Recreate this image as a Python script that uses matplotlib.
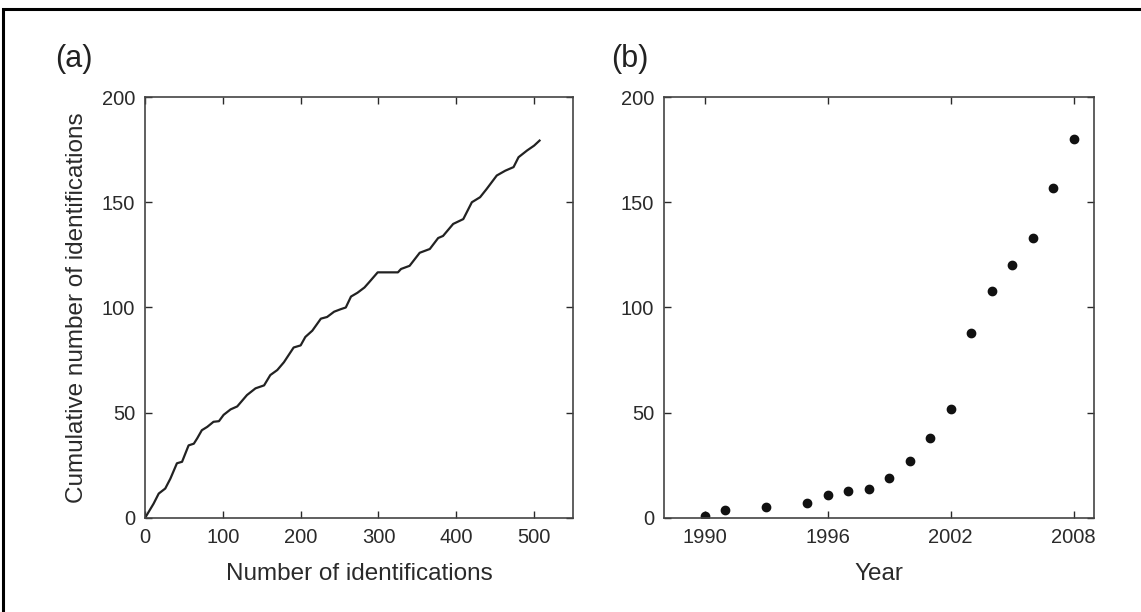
import matplotlib.pyplot as plt
from matplotlib.patches import Rectangle
from matplotlib import font_manager

# police étroite si disponible
fams = [f.name for f in font_manager.fontManager.ttflist]
if 'Liberation Sans Narrow' in fams:
    plt.rcParams['font.family'] = ['Liberation Sans Narrow', 'DejaVu Sans']
else:
    plt.rcParams['font.family'] = ['Liberation Sans', 'DejaVu Sans']

# (a) courbe cumulative
n_ident = [0, 11, 17.6, 26, 32.6, 41, 47.6, 56, 62.7, 67, 73, 80, 88, 95, 101, 110,
           118.5, 131, 142, 153, 161, 170, 178.5, 191, 200, 206, 215, 226, 234, 243,
           251.5, 258, 264.7, 273, 282, 288, 299, 325, 329, 340, 353, 366, 376.7, 383,
           396, 409, 420, 430.6, 439, 452, 463, 473.6, 480, 491, 500, 507]
cum_ident = [0, 6.8, 11.6, 14, 18.7, 26, 26.7, 34.5, 35.3, 37.8, 41.7, 43.3, 45.7, 46,
             49, 51.6, 53, 58.4, 61.6, 63, 67.9, 70.3, 74, 81, 82, 86, 89, 94.7, 95.5,
             98, 99.2, 100, 105.2, 107, 109.5, 112, 116.7, 116.7, 118.3, 119.8, 126,
             127.8, 133, 134, 139.7, 142, 150, 152.4, 156.3, 162.7, 165, 166.7, 171.4,
             174.6, 176.9, 179.3]

# (b) total cumulé par année
years = [1990, 1991, 1993, 1995, 1996, 1997, 1998, 1999, 2000, 2001, 2002, 2003,
         2004, 2005, 2006, 2007, 2008]
cum_year = [1, 4, 5, 7, 11, 13, 14, 19, 27, 38, 52, 88, 108, 120, 133, 157, 180]

fig = plt.figure(figsize=(11.41, 6.12), dpi=100)

# cadre autour de la figure
fig.patches.append(Rectangle((0.003, -0.05), 1.2, 1.035, transform=fig.transFigure,
                             fill=False, edgecolor='black', linewidth=2.2))

ax1 = fig.add_axes([0.1271, 0.1536, 0.3751, 0.6879])
ax2 = fig.add_axes([0.5820, 0.1536, 0.3768, 0.6879])

ax1.plot(n_ident, cum_ident, color='#222222', linewidth=1.6)
ax1.set_xlim(0, 550)
ax1.set_ylim(0, 200)
ax1.set_xticks([0, 100, 200, 300, 400, 500])
ax1.set_yticks([0, 50, 100, 150, 200])
ax1.set_xlabel('Number of identifications', fontsize=17.5, color='#2a2a2a', labelpad=12)
ax1.set_ylabel('Cumulative number of identifications', fontsize=17.5, color='#2a2a2a', labelpad=10)

ax2.plot(years, cum_year, 'o', color='#111111', markersize=6)
ax2.set_xlim(1988, 2009)
ax2.set_ylim(0, 200)
ax2.set_xticks([1990, 1996, 2002, 2008])
ax2.set_yticks([0, 50, 100, 150, 200])
ax2.set_xlabel('Year', fontsize=17.5, color='#2a2a2a', labelpad=12)

for ax in (ax1, ax2):
    ax.tick_params(direction='in', top=True, right=True, length=5, width=1,
                   labelsize=14.5, colors='#2a2a2a', pad=7)
    for s in ax.spines.values():
        s.set_color('#444444')
        s.set_linewidth(1.2)

fig.text(0.048, 0.89, '(a)', fontsize=22, color='#222222')
fig.text(0.536, 0.89, '(b)', fontsize=22, color='#222222')

plt.savefig('out.png', dpi=100)
